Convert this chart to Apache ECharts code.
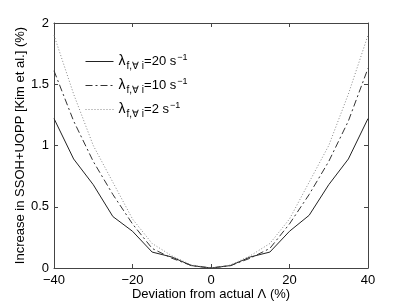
<!DOCTYPE html>
<html><head><meta charset="utf-8">
<script src="https://cdn.jsdelivr.net/npm/echarts@6/dist/echarts.min.js"></script>
<style>html,body{margin:0;padding:0;background:#fff}#c{width:407px;height:306px}</style>
</head><body><div id="c"></div>
<script>
var xVals = [-40,-35,-30,-25,-20,-15,-10,-5,0,5,10,15,20,25,30,35,40];
var y20 = [1.22,0.89,0.68,0.42,0.30,0.13,0.09,0.02,0,0.02,0.09,0.13,0.30,0.43,0.68,0.89,1.22];
var y10 = [1.61,1.20,0.87,0.60,0.36,0.16,0.08,0.02,0,0.02,0.08,0.16,0.36,0.60,0.87,1.20,1.63];
var y2  = [1.90,1.42,1.00,0.70,0.40,0.20,0.10,0.025,0,0.025,0.10,0.20,0.40,0.70,1.00,1.42,1.90];
var names = ['20','10','2'];
var xTicks = [-40,-20,0,20,40];
var yTicks = [0,0.5,1,1.5,2];

function pairs(ys){ return xVals.map(function(x,i){return [x, ys[i]];}); }
var font = 'Liberation Sans, Arial, sans-serif';
var chart = echarts.init(document.getElementById('c'));
function axisCommon(){ return {
  axisLine:{show:true,onZero:false,lineStyle:{color:'#444',width:1}},
  axisTick:{show:true,inside:true,length:4,lineStyle:{color:'#444'}},
  splitLine:{show:false}
};}
chart.setOption({
  animation:false,
  grid:{left:54,right:39,top:23,bottom:35,containLabel:false},
  legend:{
    orient:'vertical', left:80, top:48, itemWidth:28, itemHeight:10, itemGap:6,
    itemStyle:{opacity:0},
    lineStyle:{width:1},
    data:names.map(function(n){return 'λ'+n;}),
    formatter:function(name){ return '{l|λ}{sub|f,∀ i}{n|='+name.slice(1)+' s}{sup|−1}'; },
    textStyle:{fontFamily:font,fontSize:13,color:'#000',
      rich:{
        l:{fontSize:14,fontFamily:font,color:'#000',lineHeight:20,verticalAlign:'middle'},
        sub:{fontSize:10,fontFamily:font,color:'#000',padding:[9,0,0,1]},
        n:{fontSize:13,fontFamily:font,color:'#000'},
        sup:{fontSize:9,fontFamily:font,color:'#000',padding:[0,0,8,1]}
      }}
  },
  xAxis:[
    Object.assign({type:'value',min:-40,max:40,interval:20,position:'bottom',
      name:'Deviation from actual Λ (%)',nameLocation:'middle',nameGap:20,nameMoveOverlap:false,
      nameTextStyle:{fontFamily:font,fontSize:13,color:'#000'},
      axisLabel:{fontFamily:font,fontSize:13,color:'#000',margin:6,
        formatter:function(v){return v<0?'−'+(-v):String(v);}}},axisCommon()),
    Object.assign({type:'value',min:-40,max:40,interval:20,position:'top',axisLabel:{show:false}},axisCommon())
  ],
  yAxis:[
    Object.assign({type:'value',min:0,max:2,interval:0.5,position:'left',
      name:'Increase in SSOH+UOPP [Kim et al.] (%)',nameLocation:'middle',nameGap:27,nameMoveOverlap:false,
      nameTextStyle:{fontFamily:font,fontSize:13,color:'#000'},
      axisLabel:{fontFamily:font,fontSize:13,color:'#000',margin:5,
        formatter:function(v){return String(v);}}},axisCommon()),
    Object.assign({type:'value',min:0,max:2,interval:0.5,position:'right',axisLabel:{show:false}},axisCommon())
  ],
  series:[
    {name:'λ20',type:'line',data:pairs(y20),symbol:'none',lineStyle:{color:'#222',width:1,type:'solid'},itemStyle:{color:'#222'}},
    {name:'λ10',type:'line',data:pairs(y10),symbol:'none',lineStyle:{color:'#333',width:1,type:[7,3,2,3]},itemStyle:{color:'#333'}},
    {name:'λ2',type:'line',data:pairs(y2),symbol:'none',lineStyle:{color:'#888',width:1,type:[1,2]},itemStyle:{color:'#888'}},
    {name:'frame',type:'line',xAxisIndex:1,yAxisIndex:1,data:[],symbol:'none'}
  ]
});
</script></body></html>
